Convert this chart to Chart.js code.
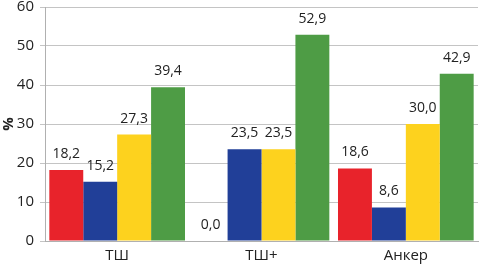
<!DOCTYPE html>
<html>
<head>
<meta charset="utf-8">
<script src="https://cdn.jsdelivr.net/npm/chart.js@4"></script>
<style>
  html, body { margin: 0; padding: 0; background: #fff; }
  #wrap { width: 480px; height: 265px; }
</style>
</head>
<body>
<div id="wrap"><canvas id="chart"></canvas></div>
<script>
// categories and series
const categories = ['ТШ', 'ТШ+', 'Анкер'];
const redValues = [18.2, 0.0, 18.6];
const blueValues = [15.2, 23.5, 8.6];
const yellowValues = [27.3, 23.5, 30.0];
const greenValues = [39.4, 52.9, 42.9];
const yTicks = [0, 10, 20, 30, 40, 50, 60];

const FONT = '"Open Sans", "DejaVu Sans", sans-serif';

// value labels above each bar, comma as decimal separator
const valueLabels = {
    id: 'valueLabels',
    afterDatasetsDraw(chart) {
        const ctx = chart.ctx;
        ctx.save();
        ctx.font = '14px ' + FONT;
        ctx.fillStyle = '#222';
        ctx.textAlign = 'center';
        ctx.textBaseline = 'bottom';
        chart.data.datasets.forEach((ds, i) => {
            chart.getDatasetMeta(i).data.forEach((bar, j) => {
                const txt = ds.data[j].toFixed(1).replace('.', ',');
                ctx.fillText(txt, bar.x, bar.y - 9);
            });
        });
        ctx.restore();
    }
};

new Chart(document.getElementById('chart'), {
    type: 'bar',
    data: {
        labels: categories,
        datasets: [
            { data: redValues, backgroundColor: '#E8232B' },
            { data: blueValues, backgroundColor: '#213F98' },
            { data: yellowValues, backgroundColor: '#FDD21E' },
            { data: greenValues, backgroundColor: '#4E9C45' }
        ]
    },
    options: {
        responsive: true,
        maintainAspectRatio: false,
        animation: false,
        layout: { padding: { top: 7, right: 2, left: 0, bottom: 0 } },
        datasets: {
            bar: { categoryPercentage: 0.94, barPercentage: 1.0 }
        },
        plugins: {
            legend: { display: false },
            tooltip: { enabled: false }
        },
        scales: {
            x: {
                grid: { display: false },
                border: { color: '#b0b0b0' },
                ticks: { color: '#222', font: { family: FONT, size: 15 }, padding: -2 },
                afterFit: axis => { axis.height = 24; axis.paddingLeft = 0; axis.paddingRight = 0; }
            },
            y: {
                min: 0,
                max: 60,
                afterBuildTicks: axis => { axis.ticks = yTicks.map(v => ({ value: v })); },
                grid: { color: '#c4c4c4', tickLength: 5 },
                border: { color: '#b0b0b0' },
                ticks: { color: '#222', font: { family: FONT, size: 15 }, padding: 6 },
                title: {
                    display: true,
                    text: '%',
                    color: '#222',
                    font: { family: FONT, size: 15, weight: 'bold' },
                    padding: { top: 0, bottom: 0 }
                },
                afterFit: axis => { axis.width = 45; axis.paddingTop = 0; axis.paddingBottom = 0; }
            }
        }
    },
    plugins: [valueLabels]
});
</script>
</body>
</html>
